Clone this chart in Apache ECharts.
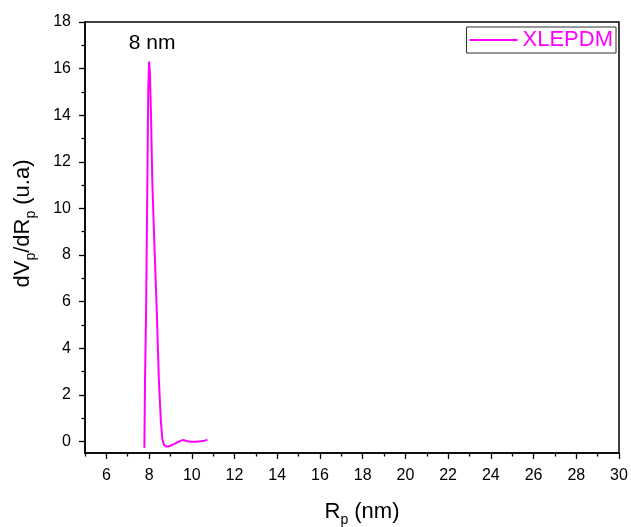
<!DOCTYPE html>
<html>
<head>
<meta charset="utf-8">
<script src="https://cdn.jsdelivr.net/npm/echarts@6/dist/echarts.min.js"></script>
<style>
html,body{margin:0;padding:0;background:#fff;}
#c{width:631px;height:527px;}
</style>
</head>
<body>
<div id="c"></div>
<script>
// Data
var seriesName = 'XLEPDM';
var rp = [7.78, 7.81, 7.86, 7.92, 7.96, 8.00, 8.04, 8.09, 8.15, 8.25, 8.36, 8.46, 8.55, 8.62, 8.70, 8.80, 8.90, 9.10, 9.30, 9.50, 9.60, 9.80, 10.0, 10.2, 10.4, 10.6, 10.73];
var dvdr = [-0.28, 2.6, 5.6, 11.2, 15.0, 16.3, 15.8, 14.0, 11.2, 8.4, 5.6, 2.6, 0.9, 0.1, -0.15, -0.22, -0.22, -0.15, -0.05, 0.03, 0.06, 0.0, -0.02, -0.02, 0.0, 0.03, 0.07];
var xMajorTicks = [6, 8, 10, 12, 14, 16, 18, 20, 22, 24, 26, 28, 30];
var xMinorTicks = [5, 7, 9, 11, 13, 15, 17, 19, 21, 23, 25, 27, 29];
var yMajorTicks = [0, 2, 4, 6, 8, 10, 12, 14, 16, 18];
var yMinorTicks = [1, 3, 5, 7, 9, 11, 13, 15, 17];
var peakLabel = '8 nm';
var peakPoint = [8.0, 16.3];

var FONT = 'Arial, "Liberation Sans", sans-serif';
var chart = echarts.init(document.getElementById('c'));
var pairs = rp.map(function (x, i) { return [x, dvdr[i]]; });

function xAx(ticks, len, showLabel, showLine) {
  return {
    type: 'value', min: 5, max: 30, position: 'bottom',
    axisLine: { show: showLine, onZero: false, lineStyle: { color: '#000', width: 1.5 } },
    axisTick: { show: true, customValues: ticks, length: len, lineStyle: { color: '#000', width: 1.3 } },
    axisLabel: { show: showLabel, customValues: ticks, margin: 15, color: '#000', fontSize: 16, fontFamily: FONT },
    splitLine: { show: false }
  };
}
function yAx(ticks, len, showLabel, showLine) {
  return {
    type: 'value', min: -0.5, max: 18, position: 'left',
    axisLine: { show: showLine, onZero: false, lineStyle: { color: '#000', width: 1.5 } },
    axisTick: { show: true, customValues: ticks, length: len, lineStyle: { color: '#000', width: 1.3 } },
    axisLabel: { show: showLabel, customValues: ticks, margin: 14, color: '#000', fontSize: 16, fontFamily: FONT },
    splitLine: { show: false }
  };
}

var xMain = xAx(xMajorTicks, 6, true, true);
xMain.name = '{a|R}{s|p}{a| (nm)}';
xMain.nameLocation = 'middle';
xMain.nameGap = 48;
xMain.nameTextStyle = {
  padding: [0, 0, 0, 20],
  rich: {
    a: { fontSize: 22, fontFamily: FONT, color: '#000', verticalAlign: 'top' },
    s: { fontSize: 14, fontFamily: FONT, color: '#000', verticalAlign: 'top', padding: [12, 0, 0, 0] }
  }
};
var yMain = yAx(yMajorTicks, 6, true, true);
yMain.name = '{a|dV}{s|p}{a|/dR}{s|p}{a| (u.a)}';
yMain.nameLocation = 'middle';
yMain.nameGap = 47;
yMain.nameTextStyle = {
  padding: [0, 0, 0, 28],
  rich: {
    a: { fontSize: 22, fontFamily: FONT, color: '#000', verticalAlign: 'top' },
    s: { fontSize: 14, fontFamily: FONT, color: '#000', verticalAlign: 'top', padding: [12, 0, 0, 0] }
  }
};

chart.setOption({
  animation: false,
  backgroundColor: '#fff',
  grid: { left: 85, right: 12, top: 22, bottom: 74, containLabel: false, outerBoundsMode: 'none', show: true, borderColor: '#000', borderWidth: 1.5, backgroundColor: 'transparent' },
  legend: {
    data: [{ name: seriesName, icon: 'rect' }],
    right: 15, top: 27,
    itemWidth: 48, itemHeight: 2, itemGap: 6,
    borderColor: '#333', borderWidth: 1, padding: [2, 3, 2, 3],
    textStyle: { color: '#ff00ff', fontSize: 22, fontFamily: FONT, padding: [0, 0, 0, 0] }
  },
  xAxis: [xMain, xAx(xMinorTicks, 3.5, false, false)],
  yAxis: [yMain, yAx(yMinorTicks, 3.5, false, false)],
  series: [{
    name: seriesName, type: 'line', data: pairs,
    xAxisIndex: 0, yAxisIndex: 0,
    showSymbol: false, smooth: false,
    lineStyle: { color: '#ff00ff', width: 2 },
    itemStyle: { color: '#ff00ff' },
    markPoint: {
      symbol: 'circle', symbolSize: 0,
      data: [{ coord: peakPoint, value: peakLabel }],
      label: { show: true, position: 'top', distance: 8, offset: [3, 0], formatter: peakLabel, color: '#000', fontSize: 21, fontFamily: FONT }
    }
  }]
});
</script>
</body>
</html>
